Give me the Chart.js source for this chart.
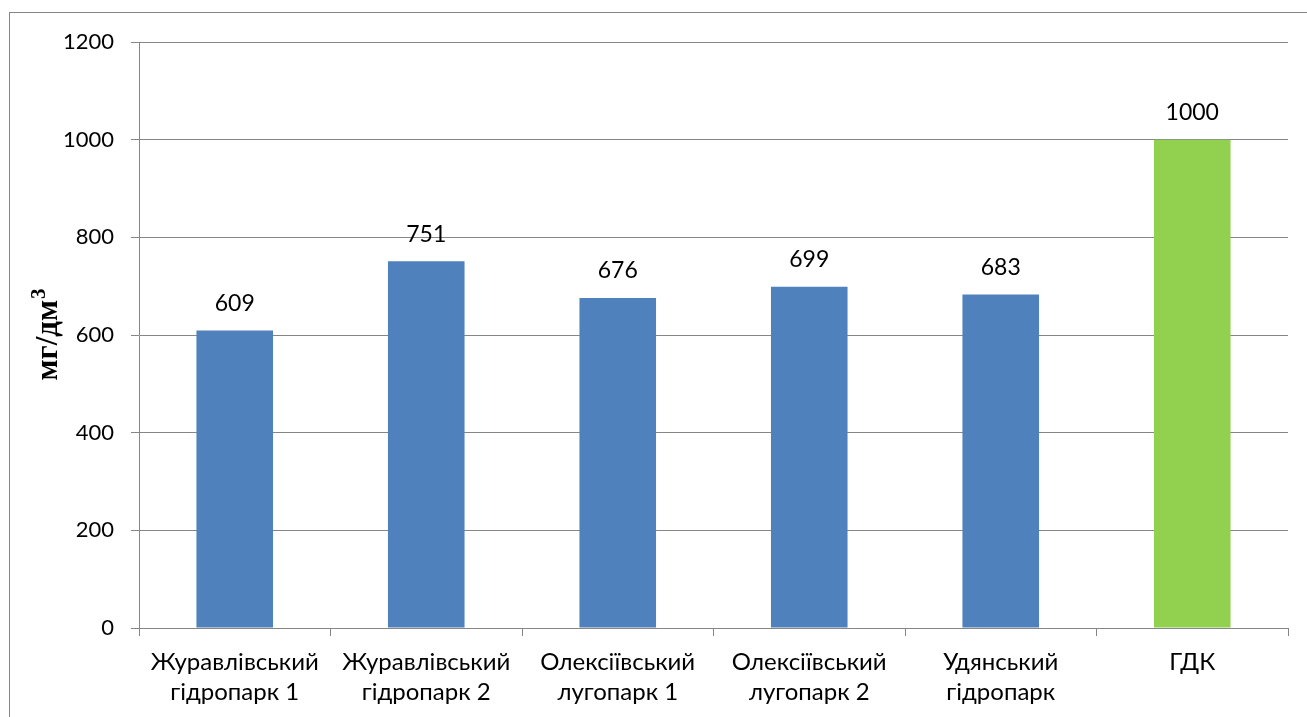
<!DOCTYPE html>
<html>
<head>
<meta charset="utf-8">
<script src="https://cdn.jsdelivr.net/npm/chart.js"></script>
<style>
  html, body { margin: 0; padding: 0; background: #fff; }
  #wrap { width: 1307px; height: 717px; }
</style>
</head>
<body>
<div id="wrap"><canvas id="c" width="1307" height="717"></canvas></div>
<script>
const categories = [
  ['Журавлівський', 'гідропарк 1'],
  ['Журавлівський', 'гідропарк 2'],
  ['Олексіївський', 'лугопарк 1'],
  ['Олексіївський', 'лугопарк 2'],
  ['Удянський', 'гідропарк'],
  ['ГДК']
];
const values = [609, 751, 676, 699, 683, 1000];
const barColors = ['#4F81BD', '#4F81BD', '#4F81BD', '#4F81BD', '#4F81BD', '#92D050'];
const yTicks = [0, 200, 400, 600, 800, 1000, 1200];
const yTitle = 'мг/дм';
const yTitleSup = '3';

const FONT = 'Lato, "Open Sans", sans-serif';
const SERIF = '"Liberation Serif", "DejaVu Serif", serif';

// outer frame of the chart
const framePlugin = {
  id: 'frame',
  beforeDraw(chart) {
    const ctx = chart.ctx;
    ctx.save();
    ctx.fillStyle = '#fff';
    ctx.fillRect(0, 0, chart.width, chart.height);
    ctx.strokeStyle = '#868686';
    ctx.lineWidth = 1;
    ctx.strokeRect(9.5, 12.5, chart.width + 20, chart.height + 20);
    ctx.restore();
  }
};

// y axis title with a real superscript, and value labels over bars
const textPlugin = {
  id: 'texts',
  afterDatasetsDraw(chart) {
    const ctx = chart.ctx;
    const area = chart.chartArea;
    ctx.save();
    ctx.fillStyle = '#000';

    // values
    ctx.font = '23px ' + FONT;
    ctx.textAlign = 'center';
    ctx.textBaseline = 'middle';
    chart.getDatasetMeta(0).data.forEach((bar, i) => {
      ctx.fillText(String(values[i]), bar.x, bar.y - 27);
    });

    // y title
    const mainFont = 'bold 31px ' + SERIF;
    const supFont = 'bold 21px ' + SERIF;
    ctx.font = mainFont;
    const w1 = ctx.measureText(yTitle).width;
    ctx.font = supFont;
    const w2 = ctx.measureText(yTitleSup).width;
    const total = w1 + w2;
    ctx.translate(57, (area.top + area.bottom) / 2);
    ctx.rotate(-Math.PI / 2);
    ctx.textAlign = 'left';
    ctx.textBaseline = 'alphabetic';
    ctx.font = mainFont;
    ctx.fillText(yTitle, -total / 2, 0);
    ctx.font = supFont;
    ctx.fillText(yTitleSup, -total / 2 + w1 + 1, -12);
    ctx.restore();
  }
};

new Chart(document.getElementById('c'), {
  type: 'bar',
  data: {
    labels: categories,
    datasets: [{
      data: values,
      backgroundColor: barColors,
      borderWidth: 0,
      barPercentage: 0.4,
      categoryPercentage: 1.0
    }]
  },
  options: {
    responsive: false,
    animation: false,
    layout: { padding: { top: 42, right: 19, left: 0, bottom: 0 } },
    plugins: {
      legend: { display: false },
      tooltip: { enabled: false }
    },
    scales: {
      x: {
        grid: {
          drawOnChartArea: false,
          drawTicks: true,
          tickLength: 8,
          color: '#868686'
        },
        border: { color: '#868686' },
        ticks: {
          color: '#000',
          font: { family: FONT, size: 24, lineHeight: 1.25 },
          padding: 11,
          maxRotation: 0,
          autoSkip: false
        },
        afterFit(scale) { scale.height = 89; }
      },
      y: {
        min: 0,
        max: 1200,
        afterBuildTicks(scale) { scale.ticks = yTicks.map(v => ({ value: v })); },
        grid: {
          color: '#868686',
          tickLength: 8
        },
        border: { color: '#868686' },
        ticks: {
          color: '#000',
          font: { family: FONT, size: 22 },
          padding: 17,
          callback: (v) => String(v)
        },
        afterFit(scale) { scale.width = 139; }
      }
    }
  },
  plugins: [framePlugin, textPlugin]
});
</script>
</body>
</html>
